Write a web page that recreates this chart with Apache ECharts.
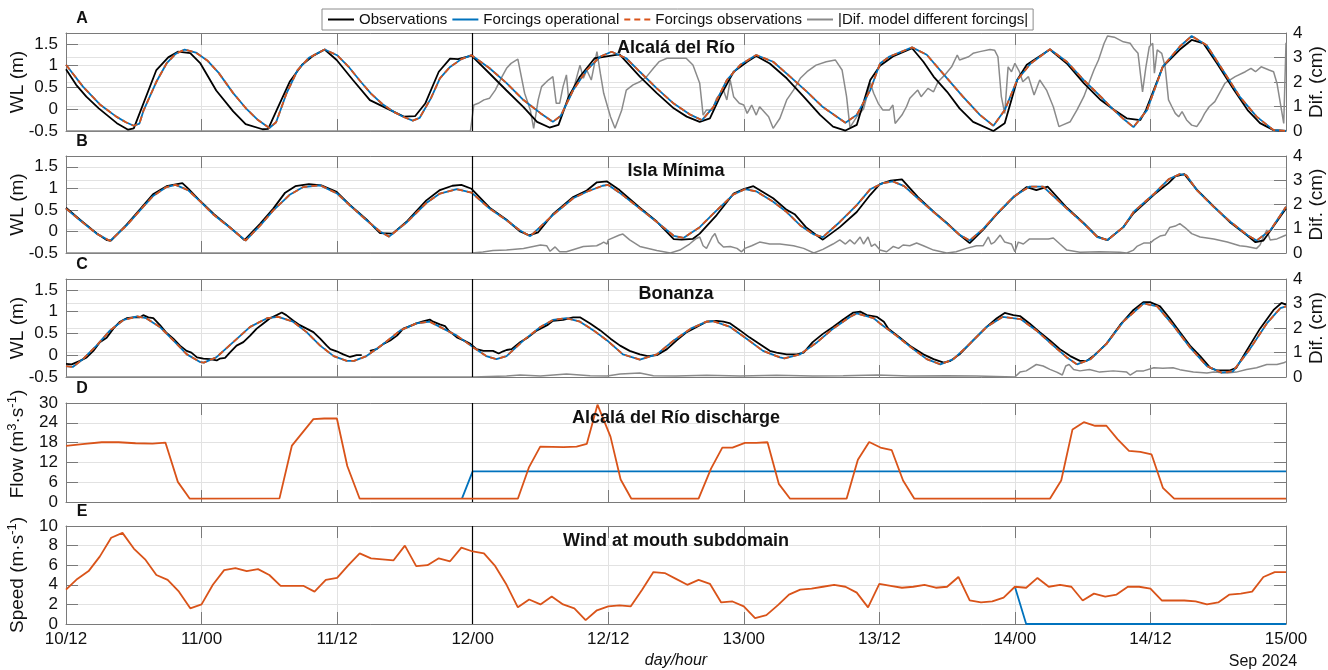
<!DOCTYPE html>
<html><head><meta charset="utf-8">
<script src="https://cdn.jsdelivr.net/npm/echarts@6/dist/echarts.min.js"></script>
<style>html,body{margin:0;padding:0;background:#fff}#c{width:1328px;height:670px}</style>
</head><body><div id="c"></div>
<script>
// ---------- DATA (hours after 10 Sep 12:00, value) ----------
const tickLabels = ['10/12','11/00','11/12','12/00','12/12','13/00','13/12','14/00','14/12','15/00'];
const splitHour = 36;

const obsA = [[0,0.92],[0.9,0.56],[1.8,0.29],[2.9,0.02],[4.5,-0.32],[5.5,-0.47],[6.0,-0.44],[8.0,0.90],[9.05,1.19],[9.9,1.32],[11.0,1.29],[11.9,1.05],[13.3,0.43],[14.8,-0.05],[15.9,-0.34],[17.4,-0.46],[17.9,-0.45],[18.65,-0.02],[19.8,0.63],[20.9,1.02],[21.9,1.23],[22.9,1.37],[23.96,1.13],[25.4,0.67],[26.9,0.21],[28.4,0.02],[29.9,-0.17],[30.9,-0.16],[31.8,0.13],[33.0,0.86],[34.0,1.16],[34.7,1.15],[35.9,1.23],[37.5,0.82],[39.0,0.43],[40.5,0.05],[41.7,-0.29],[42.8,-0.42],[43.6,-0.36],[44.5,0.29],[45.5,0.75],[46.8,1.17],[48.0,1.22],[49.0,1.26],[50.8,0.75],[52.3,0.37],[53.8,0.02],[54.95,-0.17],[56.1,-0.29],[57.0,-0.21],[57.9,0.29],[59.1,0.86],[60.3,1.09],[61.1,1.22],[62.3,1.05],[63.8,0.71],[65.3,0.29],[66.75,-0.13],[67.9,-0.40],[69.0,-0.49],[70.0,-0.36],[71.2,0.67],[72.06,1.0],[73.2,1.21],[74.9,1.40],[75.9,1.09],[76.8,0.75],[78.0,0.40],[79.1,0.02],[80.3,-0.29],[82.1,-0.50],[83.1,-0.32],[84.2,0.67],[85.05,1.02],[87.1,1.37],[88.6,1.05],[90.1,0.60],[91.6,0.21],[92.8,-0.02],[93.9,-0.21],[95.1,-0.25],[95.6,-0.02],[97.1,0.98],[98.6,1.37],[99.65,1.59],[100.7,1.51],[101.9,1.05],[103.4,0.44],[104.6,-0.02],[105.7,-0.32],[106.9,-0.48],[108,-0.5]];
const modA = [[0,1.02],[1.5,0.52],[3.0,0.11],[4.45,-0.17],[5.3,-0.30],[6.0,-0.38],[6.5,-0.33],[6.85,-0.04],[8.0,0.63],[8.9,1.05],[9.7,1.27],[10.5,1.37],[11.5,1.30],[12.5,1.12],[13.5,0.84],[14.8,0.37],[16.0,0.0],[17.0,-0.25],[18.0,-0.43],[18.6,-0.30],[19.5,0.35],[20.5,0.90],[21.5,1.18],[22.9,1.37],[24.0,1.24],[25.0,0.98],[26.0,0.66],[27.0,0.36],[28.0,0.12],[29.0,-0.06],[30.0,-0.19],[30.7,-0.26],[31.3,-0.20],[32.3,0.25],[33.1,0.71],[34.0,0.97],[35.0,1.15],[35.9,1.24],[37.5,0.94],[39.0,0.60],[40.5,0.21],[42.0,-0.09],[43.1,-0.29],[43.8,-0.15],[44.9,0.44],[46.1,0.90],[47.3,1.21],[48.3,1.32],[49.6,1.17],[50.8,0.86],[52.3,0.48],[53.8,0.13],[55.3,-0.13],[56.3,-0.25],[57.3,0.05],[58.5,0.67],[59.7,1.02],[61.1,1.245],[62.6,1.09],[64.1,0.75],[65.6,0.40],[67.0,0.05],[69.0,-0.31],[70.0,-0.13],[71.2,0.44],[72.06,1.05],[72.9,1.21],[74.9,1.42],[76.2,1.25],[78.0,0.71],[79.4,0.29],[80.9,-0.13],[82.1,-0.38],[83.1,-0.02],[84.2,0.67],[85.4,1.05],[87.1,1.375],[88.6,1.09],[90.1,0.67],[91.6,0.29],[92.6,0.02],[93.6,-0.22],[94.5,-0.41],[95.7,-0.02],[97.1,0.98],[98.6,1.44],[99.65,1.68],[100.98,1.47],[102.4,0.90],[103.9,0.29],[105.4,-0.17],[106.9,-0.48],[108,-0.5]];
const forcObsA = modA;
const difA = [[0,0],[35.8,0],[36.1,1.06],[36.5,1.13],[37.0,1.27],[37.5,1.34],[38.0,1.67],[38.6,2.22],[39.0,2.56],[39.4,2.76],[40.0,2.93],[40.6,1.54],[41.1,0.86],[41.4,0.11],[41.8,1.27],[42.1,1.81],[42.7,2.08],[43.1,2.22],[43.4,1.13],[43.7,1.13],[44.0,1.81],[44.3,2.29],[44.5,1.27],[44.9,1.67],[45.5,2.69],[45.8,2.15],[46.1,2.49],[46.5,2.08],[47.0,3.24],[47.3,2.36],[47.6,1.54],[48.2,0.58],[48.6,0.11],[49.2,0.86],[49.6,1.67],[50.2,1.88],[50.8,2.01],[51.4,2.22],[52.0,2.56],[52.5,2.83],[53.2,2.97],[54.4,2.97],[54.9,2.97],[55.5,2.69],[56.1,1.95],[56.4,0.65],[56.7,0.86],[57.2,0.86],[57.6,1.34],[58.2,1.67],[58.5,1.27],[58.8,2.08],[59.1,1.40],[59.6,1.13],[60.0,1.06],[60.3,0.72],[60.7,1.06],[61.1,0.65],[61.4,0.99],[62.2,0.58],[62.6,0.11],[63.2,0.52],[63.8,1.27],[64.4,1.67],[65.0,2.15],[65.6,2.42],[66.4,2.69],[67.3,2.83],[68.1,2.90],[68.7,2.49],[69.1,1.40],[69.4,0.15],[70.0,0.58],[70.6,0.9],[71.2,1.95],[71.5,1.54],[71.9,1.13],[72.3,0.86],[72.9,0.86],[73.2,1.06],[73.4,0.31],[74.0,0.65],[74.4,0.99],[74.7,1.34],[75.4,1.67],[75.7,1.40],[76.3,1.74],[76.8,1.60],[77.2,2.01],[77.8,2.29],[78.4,2.62],[78.9,3.10],[79.1,2.90],[79.9,3.03],[80.3,3.17],[80.9,3.24],[81.8,3.33],[82.2,3.30],[82.5,3.03],[82.8,1.40],[83.1,0.72],[83.4,2.62],[83.7,2.42],[84.0,2.76],[84.4,2.42],[84.7,2.01],[85.2,2.22],[85.7,1.47],[86.2,2.08],[86.8,1.67],[87.4,0.99],[87.9,0.18],[88.2,0.24],[88.9,0.38],[89.5,0.86],[90.1,1.40],[90.6,2.01],[91.0,2.49],[91.4,2.90],[91.9,3.58],[92.2,3.88],[92.8,3.83],[93.6,3.64],[94.2,3.58],[94.5,3.38],[94.9,3.17],[95.3,1.60],[95.6,2.62],[95.9,3.44],[96.2,3.58],[96.35,2.36],[96.6,3.31],[97.0,3.17],[97.3,2.62],[97.6,1.27],[97.9,0.99],[98.2,0.72],[98.5,0.58],[98.8,0.79],[99.2,0.45],[99.65,0.24],[100.1,0.18],[100.5,0.45],[100.8,0.72],[101.2,0.99],[101.7,1.20],[102.1,1.54],[102.6,1.95],[103.5,2.22],[104.4,2.42],[104.9,2.56],[105.3,2.42],[105.8,2.62],[106.5,2.49],[106.9,2.42],[107.2,1.95],[107.8,0.31],[108,3.6]];

const obsB = [[0,0.55],[1.24,0.27],[2.7,-0.04],[3.6,-0.20],[4.0,-0.21],[5.37,0.16],[6.55,0.51],[7.7,0.86],[8.9,1.05],[10.3,1.12],[10.8,1.0],[11.9,0.70],[13.1,0.40],[14.5,0.10],[15.8,-0.20],[17.2,0.18],[18.35,0.53],[19.4,0.90],[20.3,1.05],[21.5,1.10],[22.6,1.07],[23.96,0.92],[25.1,0.62],[26.6,0.28],[27.8,-0.04],[28.9,-0.05],[30.2,0.24],[31.9,0.72],[33.1,0.96],[34.2,1.06],[35.0,1.08],[35.9,0.99],[37.5,0.55],[39.0,0.27],[40.2,0.0],[41.0,-0.09],[41.8,-0.02],[43.1,0.40],[44.9,0.80],[46.1,0.95],[47.0,1.14],[47.9,1.16],[49.0,0.96],[50.8,0.55],[52.3,0.23],[53.8,-0.18],[54.5,-0.19],[55.5,-0.17],[56.1,-0.05],[57.6,0.38],[59.1,0.88],[60.0,0.98],[60.85,1.05],[62.6,0.77],[63.8,0.50],[64.5,0.40],[65.5,0.10],[66.5,-0.10],[67.0,-0.19],[68.5,0.10],[70.0,0.45],[71.2,0.85],[72.06,1.10],[73.0,1.18],[74.0,1.21],[75.4,0.80],[76.8,0.46],[78.0,0.19],[79.1,-0.08],[80.0,-0.27],[81.2,0.04],[82.4,0.40],[83.9,0.80],[85.05,1.03],[85.9,0.96],[86.9,1.04],[88.6,0.55],[90.1,0.19],[91.3,-0.12],[92.2,-0.20],[93.6,0.10],[94.5,0.42],[96.35,0.86],[97.6,1.12],[98.2,1.28],[99.0,1.33],[100.1,0.97],[101.6,0.58],[103.1,0.20],[104.6,-0.10],[105.3,-0.25],[106.0,-0.21],[106.3,-0.10],[108,0.53]];
const modB = [[0,0.53],[1.24,0.26],[2.7,-0.05],[3.9,-0.22],[5.37,0.14],[6.55,0.49],[7.7,0.82],[8.9,1.03],[9.7,1.08],[10.8,0.96],[11.9,0.69],[13.1,0.38],[14.5,0.09],[15.9,-0.21],[17.2,0.14],[18.35,0.49],[19.8,0.85],[21.0,1.03],[22.5,1.07],[24.0,0.88],[25.1,0.61],[26.6,0.26],[27.8,0.0],[28.6,-0.12],[30.2,0.22],[31.9,0.66],[33.1,0.88],[34.6,0.98],[35.9,0.90],[37.5,0.53],[39.0,0.26],[40.2,0.02],[41.1,-0.11],[43.1,0.38],[44.9,0.77],[46.1,0.92],[47.5,1.06],[48.0,1.08],[49.0,0.90],[50.8,0.53],[52.3,0.22],[53.8,-0.10],[54.65,-0.15],[56.1,0.10],[57.6,0.49],[59.1,0.86],[60.1,0.98],[61.1,0.93],[62.6,0.69],[63.8,0.45],[65.0,0.14],[66.2,-0.07],[67.0,-0.13],[68.5,0.22],[70.0,0.61],[71.2,0.98],[72.3,1.12],[73.2,1.16],[74.2,1.05],[75.4,0.77],[76.8,0.45],[78.0,0.18],[79.1,-0.08],[80.0,-0.21],[81.2,0.06],[82.4,0.41],[83.9,0.81],[85.3,1.04],[86.5,1.04],[88.6,0.53],[90.1,0.18],[91.3,-0.13],[92.2,-0.20],[93.6,0.10],[94.5,0.45],[96.35,0.88],[97.6,1.21],[98.6,1.33],[99.2,1.30],[100.1,0.96],[101.6,0.57],[103.1,0.22],[104.6,-0.09],[105.4,-0.21],[106.6,0.02],[108,0.57]];
const forcObsB = modB;
const difB = [[0,0],[35.9,0],[36.06,0.05],[36.9,0.04],[37.8,0.1],[39.0,0.12],[40.5,0.19],[42.0,0.33],[42.55,0.3],[42.85,0.07],[43.3,0.25],[43.7,0.05],[44.3,0.05],[45.8,0.27],[46.98,0.3],[47.3,0.37],[47.6,0.45],[47.9,0.37],[48.0,0.54],[49.0,0.74],[49.3,0.78],[49.9,0.54],[50.8,0.27],[52.3,0.1],[53.5,0.0],[54.35,0.12],[55.2,0.37],[55.8,0.6],[56.1,0.66],[56.4,0.3],[56.7,0.19],[57.2,0.66],[57.45,0.8],[57.75,0.45],[58.2,0.25],[58.8,0.27],[59.4,0.19],[59.8,0.05],[60.1,0.19],[60.7,0.3],[61.4,0.45],[62.3,0.37],[63.2,0.37],[64.4,0.3],[65.3,0.19],[66.2,0.0],[67.0,0.15],[67.9,0.37],[68.5,0.54],[69.0,0.37],[69.4,0.54],[69.8,0.37],[70.3,0.66],[70.6,0.37],[71.0,0.66],[71.3,0.27],[71.6,0.37],[72.06,0.12],[72.65,0.05],[73.24,0.27],[73.7,0.19],[74.1,0.33],[74.7,0.3],[75.3,0.41],[75.9,0.3],[76.8,0.12],[77.97,0.0],[78.8,0.05],[79.7,0.19],[80.6,0.3],[81.2,0.3],[81.65,0.66],[81.9,0.37],[82.2,0.45],[82.7,0.74],[83.1,0.45],[83.7,0.37],[84.0,0.05],[84.3,0.45],[84.75,0.37],[85.3,0.58],[86.2,0.58],[86.96,0.58],[87.4,0.62],[87.99,0.37],[88.6,0.12],[89.76,0.03],[91.5,0.05],[93.3,0.03],[93.9,0.0],[94.5,0.12],[94.8,0.27],[95.4,0.41],[95.97,0.41],[96.3,0.54],[96.85,0.7],[97.3,0.74],[97.7,1.05],[98.2,1.11],[98.6,1.21],[99.06,1.05],[99.65,0.8],[100.4,0.66],[101.6,0.58],[102.8,0.45],[103.9,0.3],[104.5,0.27],[105.4,0.19],[105.7,0.33],[106.0,0.66],[106.3,0.95],[106.6,0.54],[107.2,0.58],[107.8,0.7],[108,0.74]];

const obsC = [[0,-0.2],[0.5,-0.21],[1.24,-0.13],[1.83,-0.05],[2.42,0.1],[3.0,0.30],[3.6,0.40],[4.19,0.61],[4.78,0.77],[5.37,0.85],[5.96,0.87],[6.55,0.87],[6.84,0.92],[7.29,0.87],[7.73,0.85],[8.32,0.69],[8.91,0.51],[9.5,0.38],[10.09,0.22],[10.68,0.10],[11.1,0.06],[11.6,-0.05],[12.16,-0.08],[12.75,-0.09],[13.34,-0.12],[13.6,-0.08],[14.08,-0.06],[14.5,0.06],[15.1,0.22],[15.7,0.30],[16.3,0.45],[16.88,0.61],[17.47,0.73],[18.06,0.85],[18.65,0.92],[19.1,0.98],[19.5,0.92],[20.13,0.79],[20.7,0.69],[21.3,0.61],[21.9,0.53],[22.5,0.38],[23.08,0.22],[23.4,0.14],[23.96,0.09],[24.55,0.02],[25.14,-0.04],[25.73,0.0],[26.18,0.0],[26.5,null],[26.9,0.10],[27.5,0.14],[28.1,0.26],[28.7,0.34],[29.3,0.45],[29.86,0.61],[30.45,0.67],[31.04,0.73],[31.6,0.78],[32.2,0.82],[32.5,0.77],[33.1,0.71],[33.55,0.67],[33.85,0.57],[34.6,0.41],[35.2,0.34],[35.8,0.26],[36.35,0.14],[36.95,0.10],[37.8,0.10],[38.3,0.04],[38.7,0.09],[39.0,0.12],[39.45,0.14],[40.2,0.30],[40.9,0.41],[41.7,0.57],[42.6,0.69],[43.1,0.79],[44.0,0.81],[44.9,0.87],[45.5,0.87],[46.4,0.73],[47.3,0.57],[48.2,0.38],[49.05,0.22],[49.9,0.10],[50.8,0.02],[51.5,-0.02],[52.3,0.0],[53.2,0.14],[54.06,0.34],[54.95,0.53],[55.83,0.65],[56.7,0.77],[57.6,0.79],[58.2,0.77],[58.8,0.73],[59.67,0.57],[60.5,0.41],[61.4,0.26],[62.3,0.10],[62.9,0.06],[63.8,0.02],[64.7,0.02],[65.3,0.06],[66.1,0.30],[67.0,0.49],[67.9,0.65],[68.8,0.82],[69.7,0.98],[70.3,1.0],[70.9,0.92],[71.8,0.88],[72.4,0.77],[72.8,0.61],[73.8,0.41],[74.7,0.22],[75.9,0.02],[76.8,-0.09],[77.7,-0.17],[78.3,-0.13],[79.1,0.02],[80.3,0.34],[81.5,0.65],[82.4,0.85],[83.1,0.97],[83.86,0.92],[84.45,0.90],[85.3,0.73],[86.2,0.53],[87.1,0.34],[87.99,0.14],[88.9,-0.02],[89.76,-0.13],[90.35,-0.13],[90.95,-0.02],[92.1,0.26],[93.3,0.69],[94.5,1.04],[95.37,1.22],[95.96,1.22],[96.85,1.12],[97.7,0.85],[98.6,0.53],[99.5,0.22],[100.4,-0.02],[101.3,-0.29],[101.9,-0.35],[103.0,-0.35],[103.6,-0.29],[104.5,0.10],[105.7,0.61],[106.9,1.04],[107.6,1.20],[108,1.16]];
const modC = [[0,-0.25],[0.6,-0.27],[1.5,-0.09],[2.7,0.22],[3.9,0.57],[5.1,0.81],[6.3,0.89],[7.1,0.85],[8.3,0.65],[9.5,0.34],[10.7,0.02],[11.9,-0.16],[12.2,-0.17],[13.3,-0.05],[14.8,0.30],[16.3,0.65],[17.8,0.85],[18.8,0.88],[20.1,0.77],[21.3,0.53],[22.5,0.22],[23.7,-0.02],[24.85,-0.13],[25.5,-0.13],[26.6,-0.02],[28.1,0.26],[29.6,0.57],[31.0,0.73],[32.2,0.77],[33.1,0.65],[34.6,0.45],[36.06,0.18],[37.2,-0.02],[38.1,-0.09],[39.0,-0.02],[40.5,0.34],[42.0,0.65],[43.1,0.81],[44.3,0.85],[45.5,0.77],[46.7,0.57],[47.9,0.34],[49.3,0.02],[50.8,-0.10],[52.3,0.02],[53.8,0.34],[55.3,0.61],[56.7,0.77],[57.3,0.78],[58.8,0.65],[60.25,0.38],[61.7,0.10],[63.2,-0.05],[63.6,-0.07],[64.98,0.02],[66.5,0.30],[67.9,0.61],[69.4,0.88],[70.0,0.96],[71.5,0.85],[72.06,0.73],[73.5,0.45],[75.0,0.14],[76.2,-0.09],[77.4,-0.21],[78.56,-0.09],[80.0,0.26],[81.5,0.65],[82.9,0.88],[84.5,0.83],[85.9,0.57],[87.4,0.22],[88.6,-0.05],[89.5,-0.21],[90.7,-0.09],[92.1,0.26],[93.6,0.77],[95.4,1.19],[96.6,1.12],[98.0,0.69],[99.5,0.18],[101.0,-0.25],[102.3,-0.40],[103.3,-0.37],[104.8,0.14],[106.3,0.73],[107.5,1.08],[108,1.12]];
const forcObsC = modC;
const difC = [[0,0],[36,0],[36.1,0.02],[39.0,0.04],[40.2,0.08],[42.0,0.04],[44.3,0.12],[46.4,0.05],[47.9,0.04],[49.05,0.12],[50.8,0.16],[52.0,0.05],[54.0,0.04],[56.7,0.07],[59.7,0.04],[62.9,0.07],[66.1,0.04],[68.8,0.05],[71.8,0.08],[74.7,0.04],[77.97,0.05],[80.6,0.04],[84.0,0.0],[84.45,0.2],[85.0,0.25],[85.9,0.51],[86.5,0.45],[87.1,0.31],[87.7,0.2],[88.2,0.08],[88.5,0.45],[88.8,0.51],[89.2,0.31],[89.76,0.25],[90.6,0.31],[91.5,0.2],[92.7,0.25],[93.9,0.2],[94.2,0.08],[94.8,0.25],[95.4,0.25],[96.3,0.38],[97.1,0.36],[98.0,0.38],[98.6,0.3],[99.8,0.2],[101.0,0.16],[101.6,0.2],[102.8,0.16],[103.6,0.2],[104.5,0.31],[105.4,0.38],[106.3,0.51],[107.2,0.51],[107.8,0.58],[108,0.63]];

const flowObs = [[0,17.0],[1.66,17.6],[3.16,18.1],[4.66,18.1],[6.16,17.8],[7.66,17.7],[8.8,18.0],[9.9,6.1],[10.96,1.0],[18.9,1.1],[20.0,17.1],[21.9,25.1],[22.86,25.3],[23.98,25.3],[24.9,10.9],[26.0,1.0],[40.0,1.0],[40.97,10.4],[41.98,16.8],[44.05,16.6],[45.2,16.8],[46.1,17.6],[47.05,29.5],[48.2,19.8],[49.1,6.8],[50.05,1.0],[56.0,1.0],[57.1,10.1],[58.1,16.5],[59.0,16.5],[60.1,17.9],[61.1,17.9],[62.1,18.1],[63.1,5.5],[64.1,1.0],[69.1,1.0],[70.1,12.8],[71.1,18.2],[72.1,16.5],[73.1,15.7],[74.1,6.5],[75.1,1.0],[87.1,1.0],[88.1,6.5],[89.1,22.0],[90.1,24.2],[91.1,23.1],[92.1,23.1],[93.1,19.0],[94.1,15.5],[95.1,15.2],[96.1,14.4],[97.1,4.3],[98.1,1.0],[108,1.0]];
const flowOp = [[35.05,1.0],[36.0,9.3],[108,9.3]];

const windObs = [3.5,4.6,5.4,6.9,8.8,9.3,7.7,6.6,5.0,4.5,3.3,1.6,2.0,4.0,5.5,5.7,5.4,5.6,5.0,3.9,3.9,3.9,3.3,4.5,4.7,6.0,7.2,6.7,6.6,6.5,8.0,5.9,6.0,6.7,6.4,7.8,7.4,7.2,5.9,4.0,1.7,2.5,2.0,2.8,2.0,1.6,0.4,1.4,1.8,1.9,1.8,3.5,5.3,5.2,4.6,4.0,4.5,4.1,2.2,2.3,1.8,0.6,0.9,1.9,3.0,3.5,3.6,3.8,4.0,3.8,3.2,1.7,4.1,3.9,3.7,3.8,4.0,3.7,3.8,4.8,2.4,2.2,2.3,2.7,3.8,3.7,4.7,3.8,4.0,3.8,2.4,3.1,2.8,3.0,3.8,3.8,3.6,2.4,2.4,2.4,2.3,2.0,2.2,3.0,3.1,3.3,4.8,5.3,5.3];
const windOp = [[84,3.8],[85,0],[108,0]];

// ---------- STYLE ----------
const FONT = '"Liberation Sans", Arial, Helvetica, sans-serif';
const COL = {obs:'#000000', op:'#0072BD', fo:'#D95319', dif:'#8a8a8a'};
const BOX = '#7a7a7a', GRID = '#e2e2e2', TXT = '#111111';
const NAMES = {obs:'Observations', op:'Forcings operational', fo:'Forcings observations', dif:'|Dif. model different forcings|'};

const panels = [
  {top:33, h:98, letter:'A', title:'Alcalá del Río', obs:obsA, op:modA, fo:forcObsA, dif:difA},
  {top:156, h:97, letter:'B', title:'Isla Mínima', obs:obsB, op:modB, fo:forcObsB, dif:difB},
  {top:279, h:98, letter:'C', title:'Bonanza', obs:obsC, op:modC, fo:forcObsC, dif:difC},
  {top:403, h:99, letter:'D', title:'Alcalá del Río discharge', op:flowOp, fo:flowObs, y:[0,30,6]},
  {top:526, h:98, letter:'E', title:'Wind at mouth subdomain', op:windOp, fo:windObs.map((v,i)=>[i,v]), y:[0,10,2]}
];

const grids=[], xAxes=[], yAxes=[], series=[], graphics=[];
const lineAx = {show:true, onZero:false, lineStyle:{color:BOX, width:1}};
const tickIn = {show:true, inside:true, length:12, lineStyle:{color:BOX, width:1}};
const markV = {silent:true, symbol:['none','none'], label:{show:false}, animation:false,
  lineStyle:{color:'#000', width:1.2, type:'solid'}, emphasis:{disabled:true}, data:[{xAxis:splitHour}]};

panels.forEach((p,i)=>{
  grids.push({left:66, right:42, top:p.top, height:p.h, outerBoundsMode:'none'});
  xAxes.push({gridIndex:i, type:'value', min:0, max:108, interval:12, position:'bottom',
    axisLine:lineAx, axisTick:tickIn,
    axisLabel:{show:i===4, margin:7, fontSize:17, color:TXT, fontFamily:FONT,
      formatter:v=>tickLabels[Math.round(v/12)]||''},
    splitLine:{show:true, lineStyle:{color:GRID, width:1}}});
  xAxes.push({gridIndex:i, type:'value', min:0, max:108, interval:12, position:'top',
    axisLine:lineAx, axisTick:tickIn, axisLabel:{show:false}, splitLine:{show:false}});
  const wl = !p.y;
  const yl = wl ? [-0.5,1.75,0.5] : p.y;
  yAxes.push({gridIndex:i, type:'value', position:'left', min:yl[0], max:yl[1], interval:yl[2],
    axisLine:lineAx, axisTick:tickIn,
    axisLabel:{margin:8, fontSize:17, color:TXT, fontFamily:FONT, showMaxLabel:!wl},
    splitLine:{show:true, lineStyle:{color:GRID, width:1}}});
  if (wl) {
    yAxes.push({gridIndex:i, type:'value', position:'right', min:0, max:4, interval:1,
      axisLine:lineAx, axisTick:tickIn,
      axisLabel:{margin:7, fontSize:17, color:TXT, fontFamily:FONT},
      splitLine:{show:true, lineStyle:{color:GRID, width:1}}});
  } else {
    yAxes.push({gridIndex:i, type:'value', position:'right', min:yl[0], max:yl[1], interval:yl[2],
      axisLine:lineAx, axisTick:tickIn, axisLabel:{show:false}, splitLine:{show:false}});
  }
  const base = {type:'line', xAxisIndex:2*i, symbol:'none', showSymbol:false, animation:false,
    connectNulls:false, emphasis:{disabled:true}};
  if (wl) {
    series.push(Object.assign({}, base, {name:NAMES.dif, yAxisIndex:2*i+1, data:p.dif, z:2,
      lineStyle:{color:COL.dif, width:1.5}, itemStyle:{color:COL.dif}}));
    series.push(Object.assign({}, base, {name:NAMES.obs, yAxisIndex:2*i, data:p.obs, z:3,
      lineStyle:{color:COL.obs, width:1.8}, itemStyle:{color:COL.obs}, markLine:markV}));
    series.push(Object.assign({}, base, {name:NAMES.op, yAxisIndex:2*i, data:p.op, z:4,
      lineStyle:{color:COL.op, width:1.8}, itemStyle:{color:COL.op}}));
    series.push(Object.assign({}, base, {name:NAMES.fo, yAxisIndex:2*i, data:p.fo, z:5,
      lineStyle:{color:COL.fo, width:1.8, type:[6,4]}, itemStyle:{color:COL.fo}}));
  } else {
    series.push(Object.assign({}, base, {name:NAMES.op, yAxisIndex:2*i, data:p.op, z:4,
      lineStyle:{color:COL.op, width:1.8}, itemStyle:{color:COL.op}}));
    series.push(Object.assign({}, base, {name:NAMES.fo, yAxisIndex:2*i, data:p.fo, z:5,
      lineStyle:{color:COL.fo, width:1.8}, itemStyle:{color:COL.fo}, markLine:markV}));
  }
  graphics.push({type:'text', x:82, y:p.top-14, z:100, style:{text:p.letter, font:'bold 16px '+FONT, fill:TXT, align:'center', verticalAlign:'middle'}});
  graphics.push({type:'text', x:676, y:p.top+15, z:100, style:{text:p.title, font:'bold 18px '+FONT, fill:TXT, align:'center', verticalAlign:'middle'}});
});

const richName = (parts, x, y) => ({type:'text', x:x, y:y, rotation:Math.PI/2, z:100,
  style:{text:parts, align:'center', verticalAlign:'middle', fill:TXT,
    rich:{a:{fontSize:19, fontFamily:FONT, fill:TXT, lineHeight:24},
          b:{fontSize:13, fontFamily:FONT, fill:TXT, lineHeight:14, verticalAlign:'top'}}}});
[0,1,2].forEach(i=>{
  const p = panels[i];
  graphics.push(richName('{a|WL (m)}', 18, p.top + p.h/2));
  graphics.push(richName('{a|Dif. (cm)}', 1317, p.top + p.h/2));
});
graphics.push(richName('{a|Flow (m}{b|3}{a|·s}{b|-1}{a|)}', 18, 444));
graphics.push(richName('{a|Speed (m·s}{b|-1}{a|)}', 18, 575));
graphics.push({type:'text', x:676, y:661, z:100, style:{text:'day/hour', font:'italic 16px '+FONT, fill:TXT, align:'center', verticalAlign:'middle'}});
graphics.push({type:'text', x:1263, y:662, z:100, style:{text:'Sep 2024', font:'16px '+FONT, fill:TXT, align:'center', verticalAlign:'middle'}});

const chart = echarts.init(document.getElementById('c'), null, {renderer:'canvas'});
chart.setOption({
  animation:false,
  backgroundColor:'#ffffff',
  textStyle:{fontFamily:FONT},
  legend:{left:322, top:9, itemWidth:26, itemHeight:14, itemGap:4, padding:[3,5,3,5],
    borderColor:'#8c8c8c', borderWidth:1, backgroundColor:'#ffffff', selectedMode:false,
    itemStyle:{opacity:0},
    textStyle:{fontSize:15, color:TXT, fontFamily:FONT},
    data:[NAMES.obs, NAMES.op, NAMES.fo, NAMES.dif]},
  grid:grids, xAxis:xAxes, yAxis:yAxes, series:series, graphic:graphics
});
</script></body></html>
